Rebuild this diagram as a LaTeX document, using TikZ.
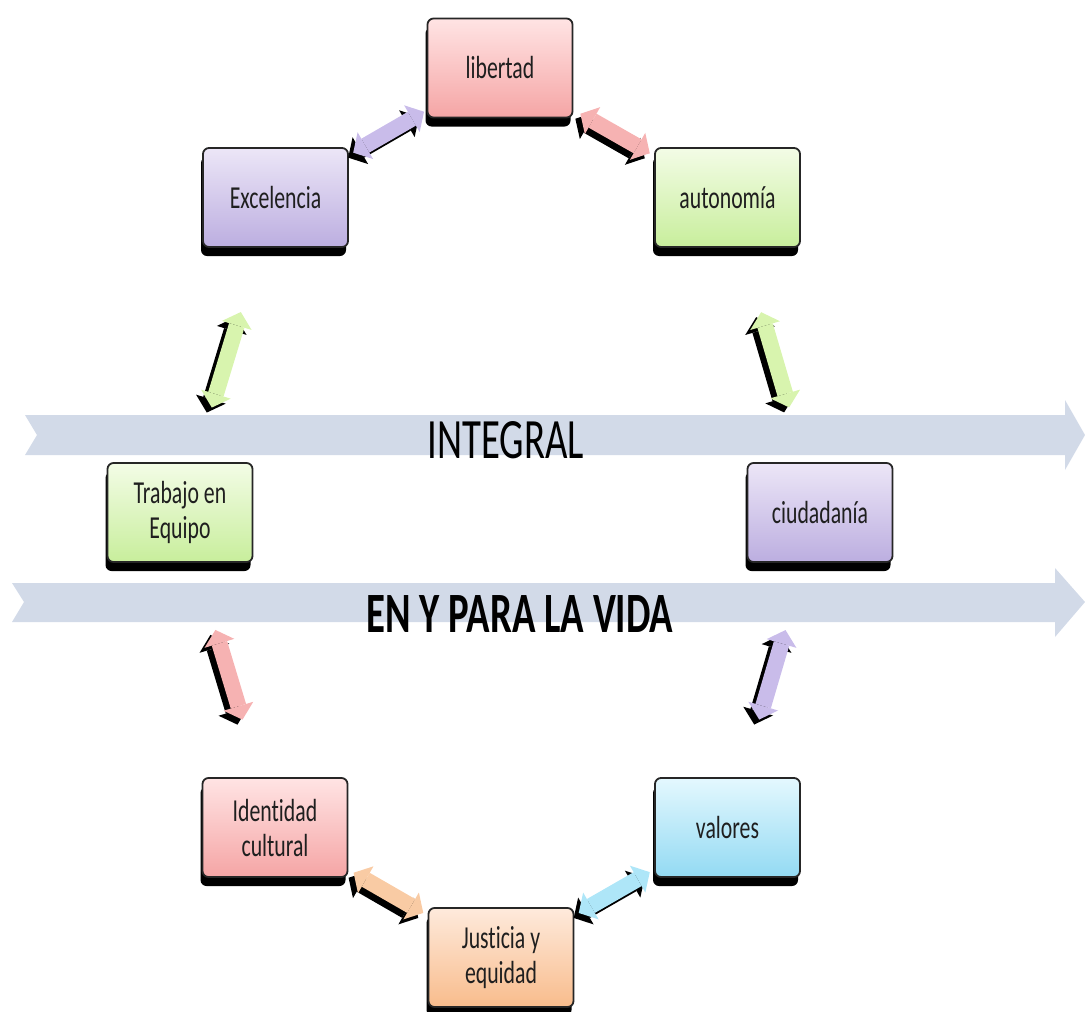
\documentclass[tikz,border=0pt]{standalone}
\usepackage{fontspec}
\setmainfont{Carlito}[FakeStretch=0.68, Ligatures={NoCommon}]
\usetikzlibrary{arrows.meta,shadows}
\definecolor{bandc}{HTML}{D2DAE8}
\definecolor{pinkT}{HTML}{FFE4E4}
\definecolor{pinkB}{HTML}{F5A5A5}
\definecolor{purT}{HTML}{ECE6F7}
\definecolor{purB}{HTML}{BCAEE0}
\definecolor{greT}{HTML}{F3FCE6}
\definecolor{greB}{HTML}{C8EE9C}
\definecolor{bluT}{HTML}{E4F8FE}
\definecolor{bluB}{HTML}{93DAF3}
\definecolor{oraT}{HTML}{FEEADC}
\definecolor{oraB}{HTML}{F8BC8C}
\definecolor{purA}{HTML}{C9BCEA}
\definecolor{pinkA}{HTML}{F6B2B2}
\definecolor{greA}{HTML}{D8F4AE}
\definecolor{oraA}{HTML}{F9CBA4}
\definecolor{bluA}{HTML}{AEE6F8}
\tikzset{
  box/.style={rectangle, rounded corners=6pt, draw=black!85, line width=1.8pt,
    minimum width=145pt, minimum height=99pt, align=center, text=black!88,
    font=\fontsize{32}{35}\selectfont,
    drop shadow={shadow xshift=-2pt, shadow yshift=-9pt, fill=black, opacity=1}},
  pinkbox/.style={box, top color=pinkT, bottom color=pinkB},
  purbox/.style={box, top color=purT, bottom color=purB},
  grebox/.style={box, top color=greT, bottom color=greB},
  blubox/.style={box, top color=bluT, bottom color=bluB},
  orabox/.style={box, top color=oraT, bottom color=oraB},
  dbl/.style={line width=16pt,
    {Triangle[length=14pt,width=31pt,line width=0pt]}-{Triangle[length=14pt,width=31pt,line width=0pt]}},
  band/.style={fill=bandc, draw=none},
  bandtext/.style={inner sep=0pt, text=black}
}
\begin{document}
\begin{tikzpicture}[x=1pt,y=-1pt]
\useasboundingbox (0,0) rectangle (1085,1012);
% bands
\path[band] (25,415) -- (1065,415) -- (1065,400) -- (1085,435) -- (1065,470)
  -- (1065,455) -- (25,455) -- (37,435) -- cycle;
\path[band] (12,583) -- (1055,583) -- (1055,568) -- (1085,602) -- (1055,637)
  -- (1055,622) -- (12,622) -- (24,602) -- cycle;
\node[bandtext, font=\fontsize{57}{60}\selectfont] (integral) at (506,440) {INTEGRAL};
\node[bandtext, font=\bfseries\fontsize{57}{60}\selectfont] (vida) at (520,614) {EN Y PARA LA VIDA};
% boxes
\node[pinkbox] (lib) at (500,68) {libertad};
\node[purbox] (exc) at (275.5,197.5) {Excelencia};
\node[grebox] (aut) at (727.5,197.5) {autonomía};
\node[grebox] (trab) at (180,512.5) {Trabajo en\\Equipo};
\node[purbox] (ciu) at (820,512.5) {ciudadanía};
\node[pinkbox] (ident) at (275,827.5) {Identidad\\cultural};
\node[blubox] (val) at (727.5,827.5) {valores};
\node[orabox] (just) at (501,957.5) {Justicia y\\equidad};
% connectors
\foreach \a/\b/\sa/\sb/\c in {exc/lib/5pt/3pt/purA, lib/aut/8pt/5pt/pinkA,
   exc/trab/67pt/57pt/greA, aut/ciu/67pt/57pt/greA,
   trab/ident/70pt/60pt/pinkA, ciu/val/70pt/60pt/purA,
   ident/just/6pt/5pt/oraA, val/just/5pt/5pt/bluA}{
  \begin{scope}[transform canvas={xshift=-5pt,yshift=-5pt}]
    \draw[dbl, draw=black, shorten <=\sa, shorten >=\sb] (\a) -- (\b);
  \end{scope}
  \draw[dbl, draw=\c, shorten <=\sa, shorten >=\sb] (\a) -- (\b);
}
\end{tikzpicture}
\end{document}
